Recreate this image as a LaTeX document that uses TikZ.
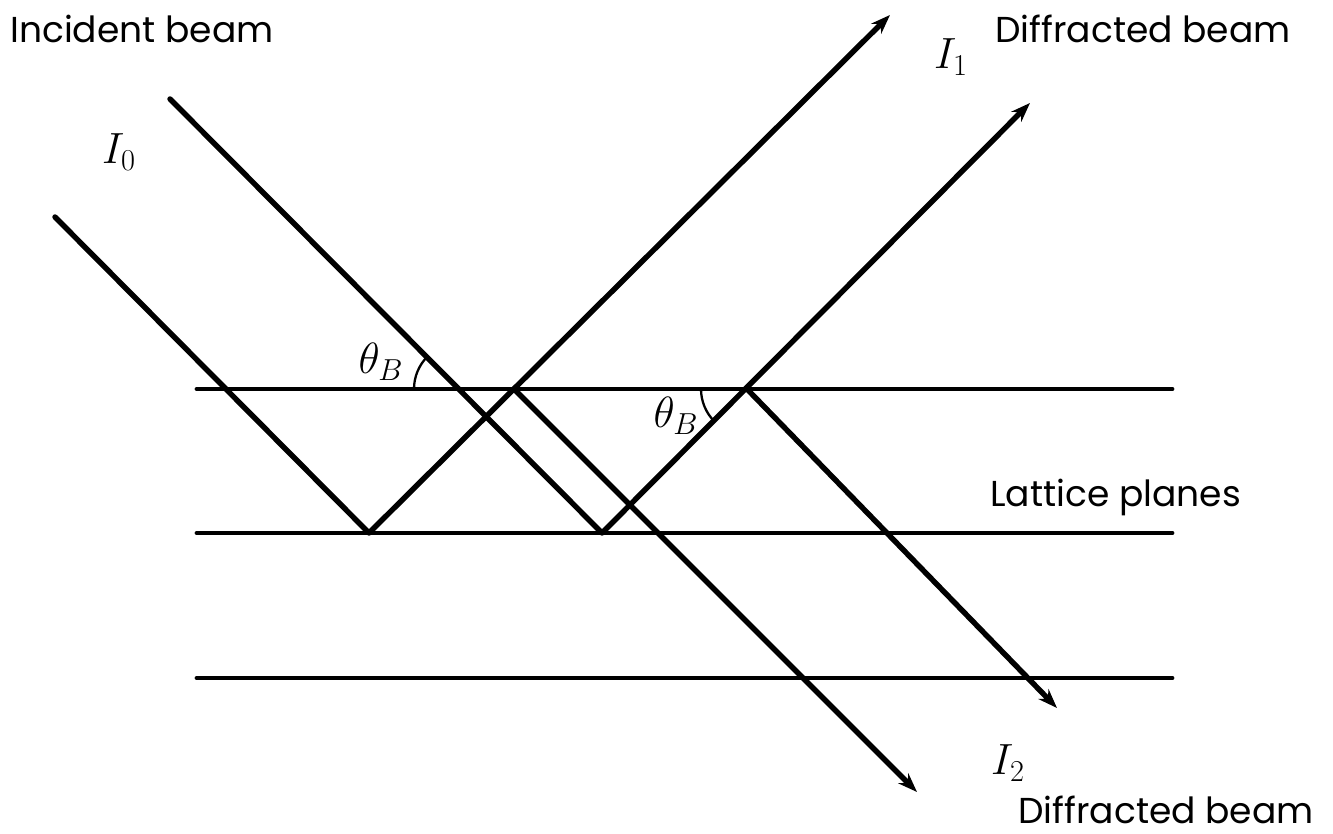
\documentclass[tikz,border=0pt]{standalone}
\usepackage{fontspec}
\setmainfont{Poppins}
\usetikzlibrary{arrows.meta}
\begin{document}
\begin{tikzpicture}[x=0.02cm,y=-0.02cm,
  beam/.style={line width=3.1pt},
  beamarrow/.style={line width=3.1pt,-{Stealth[length=11pt,width=8pt]}},
  plane/.style={line width=2.8pt,line cap=round},
  anglearc/.style={line width=1.3pt},
  lbl/.style={inner sep=0pt,anchor=base west,font=\fontsize{20.5}{24}\selectfont},
  mlbl/.style={inner sep=0pt,font=\fontsize{27}{30}\selectfont}]
\useasboundingbox (0,0) rectangle (1333,834);
% lattice planes
\coordinate (p1l) at (197,389); \coordinate (p1r) at (1172,389);
\coordinate (p2l) at (197,533); \coordinate (p2r) at (1172,533);
\coordinate (p3l) at (197,678); \coordinate (p3r) at (1172,678);
\draw[plane] (p1l) -- (p1r);
\draw[plane] (p2l) -- (p2r);
\draw[plane] (p3l) -- (p3r);
% beam points
\coordinate (a0) at (55,217);
\coordinate (ra) at (369,533);
\coordinate (a1) at (890,15);
\coordinate (ca) at (514,389);
\coordinate (c1) at (917,792);
\coordinate (b0) at (170,99);
\coordinate (rb) at (602,533);
\coordinate (b1) at (1030,103);
\coordinate (xb) at (460,389);
\coordinate (db) at (747,389);
\coordinate (d1) at (1057,708);
\draw[beam,line cap=round] (a0) -- (ra);
\draw[beamarrow] (ra) -- (a1);
\draw[beamarrow] (ca) -- (c1);
\draw[beam,line cap=round] (b0) -- (rb);
\draw[beamarrow] (rb) -- (b1);
\draw[beamarrow] (db) -- (d1);
% angles
\draw[anglearc] ([shift={(-46,0)}]xb) arc[start angle=180,end angle=225,radius=46];
\draw[anglearc] ([shift={(-46,0)}]db) arc[start angle=180,end angle=135,radius=46];
\node[mlbl] (th1) at (381,362) {$\theta_B$};
\node[mlbl] (th2) at (676,416) {$\theta_B$};
% labels
\node[mlbl] (i0) at (119,152) {$I_0$};
\node[mlbl] (i1) at (951,57) {$I_1$};
\node[mlbl] (i2) at (1008,763) {$I_2$};
\node[lbl] (inc) at (10,43) {Incident beam};
\node[lbl] (dif1) at (995,43) {Diffracted beam};
\node[lbl] (lat) at (990,507) {Lattice planes};
\node[lbl] (dif2) at (1018,823) {Diffracted beam};
\end{tikzpicture}
\end{document}
